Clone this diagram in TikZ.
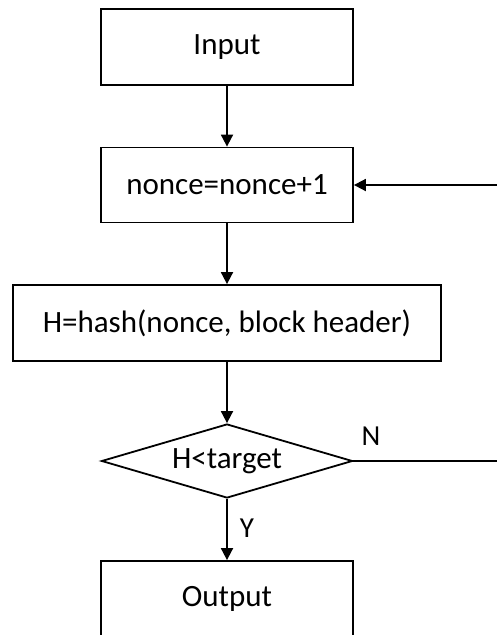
\documentclass[tikz,border=0pt]{standalone}
\usepackage{fontspec}
\setmainfont{Carlito}
\usetikzlibrary{shapes.geometric,arrows.meta}
\begin{document}
\begin{tikzpicture}[x=1pt,y=-1pt,
  box/.style={draw,line width=1.8pt,inner sep=0pt,minimum width=252pt,minimum height=76pt,font=\fontsize{31}{36}\selectfont},
  dec/.style={draw,diamond,line width=1.8pt,inner sep=0pt,minimum width=251pt,minimum height=74pt,shape aspect=3.39,font=\fontsize{31}{36}\selectfont},
  arr/.style={line width=1.8pt,-{Triangle[length=12pt,width=12pt]}},
  ln/.style={line width=1.8pt},
  lbl/.style={font=\fontsize{29}{34}\selectfont,inner sep=0pt}]
\useasboundingbox (0,0) rectangle (497,635);
\node[box] (input) at (227,47) {Input};
\node[box,minimum height=75pt] (nonce) at (227,185) {nonce=nonce+1};
\node[box,minimum width=428pt] (hash) at (227,323) {H=hash(nonce, block header)};
\node[dec] (cmp) at (227,461) {H<target};
\node[box] (output) at (227,599) {Output};
\coordinate (rn) at (499,461);
\coordinate (rt) at (499,185);
\draw[arr] (input) -- (nonce);
\draw[arr] (nonce) -- (hash);
\draw[arr] (hash.south) -- (cmp.north);
\draw[arr] (cmp.south) -- (output.north);
\draw[ln] (cmp.east) -- (rn);
\draw[arr] (rt) -- (nonce.east);
\node[lbl] (n) at (371,436) {N};
\node[lbl] (y) at (247,528) {Y};
\end{tikzpicture}
\end{document}
